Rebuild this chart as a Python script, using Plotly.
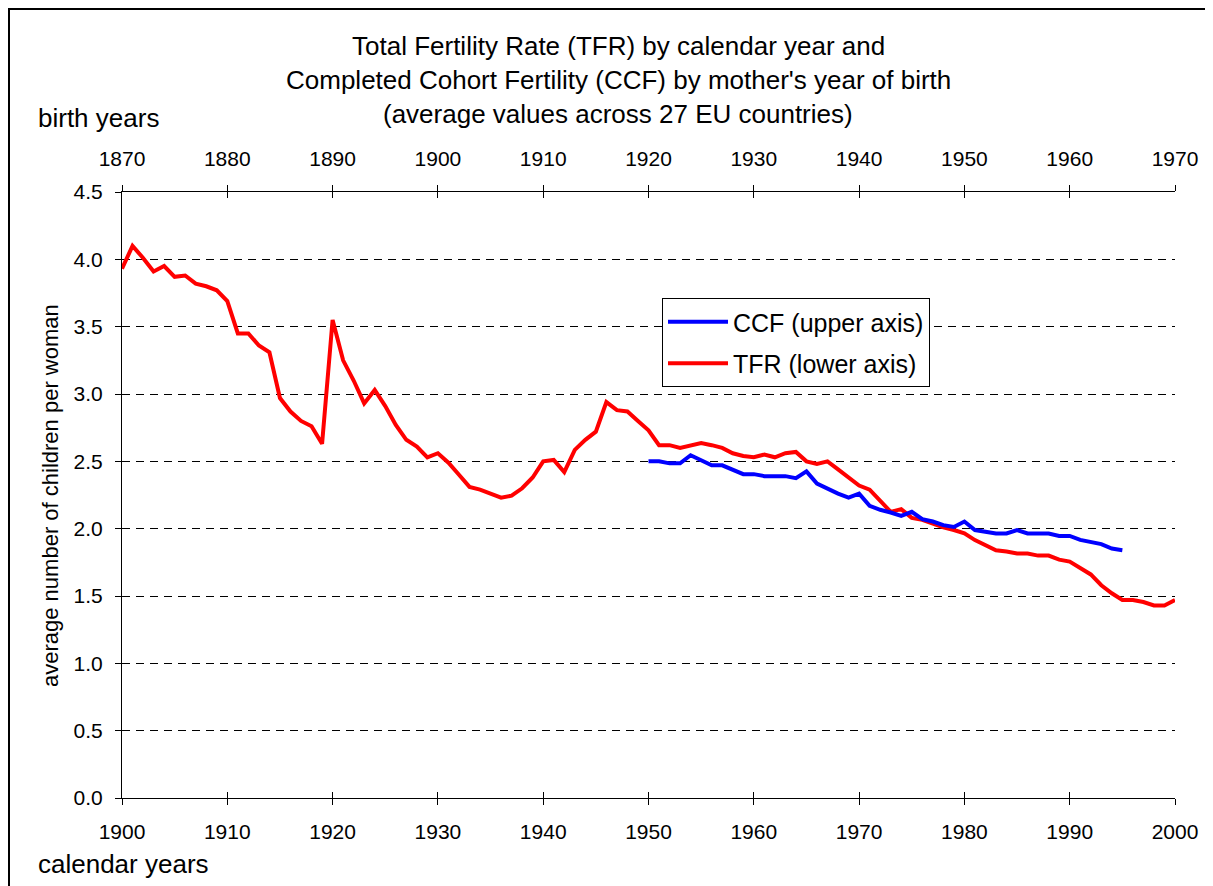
import plotly.graph_objects as go

# ---- data ----
tfr_years = list(range(1900, 2001))
tfr_values = [3.93, 4.10, 4.01, 3.91, 3.95, 3.87, 3.88, 3.82, 3.80, 3.77,
              3.69, 3.45, 3.45, 3.36, 3.31, 2.97, 2.87, 2.80, 2.76, 2.63,
              3.55, 3.25, 3.10, 2.93, 3.03, 2.91, 2.77, 2.66, 2.61, 2.53,
              2.56, 2.49, 2.40, 2.31, 2.29, 2.26, 2.23, 2.245, 2.30, 2.38,
              2.50, 2.51, 2.42, 2.585, 2.66, 2.72, 2.94, 2.88, 2.87, 2.80,
              2.73, 2.62, 2.62, 2.60, 2.62, 2.635, 2.62, 2.60, 2.56, 2.54,
              2.53, 2.55, 2.53, 2.56, 2.57, 2.50, 2.48, 2.50, 2.44, 2.38,
              2.32, 2.29, 2.21, 2.125, 2.145, 2.08, 2.065, 2.035, 2.01, 1.99,
              1.965, 1.915, 1.88, 1.84, 1.83, 1.815, 1.815, 1.80, 1.80, 1.77,
              1.755, 1.71, 1.66, 1.58, 1.52, 1.47, 1.47, 1.455, 1.43, 1.43,
              1.47]

ccf_birth_years = list(range(1920, 1966))
ccf_values = [2.50, 2.50, 2.485, 2.485, 2.545, 2.51, 2.47, 2.47, 2.435, 2.405,
              2.405, 2.39, 2.39, 2.39, 2.375, 2.425, 2.335, 2.295, 2.26, 2.23,
              2.26, 2.17, 2.14, 2.12, 2.095, 2.125, 2.07, 2.053, 2.026, 2.013,
              2.053, 1.99, 1.978, 1.964, 1.964, 1.99, 1.964, 1.964, 1.964, 1.946,
              1.946, 1.917, 1.902, 1.885, 1.852, 1.84]

calendar_range = [1900, 2000]
birth_range = [1870, 1970]
title_lines = ["Total Fertility Rate (TFR) by calendar year and",
               "Completed Cohort Fertility (CCF) by mother's year of birth",
               "(average values across 27 EU countries)"]

FONT = "Liberation Sans, Arial, sans-serif"
OFF = 8  # page body margin offset
W, H = 1213 - OFF, 886 - OFF
PL, PR, PT, PB = 122, 1175, 192, 798  # plot area in page pixels
L, T = PL - OFF, PT - OFF
R, B = W - (PR - OFF), H - (PB - OFF)
PW, PH = PR - PL, PB - PT


def px_x(p):
    return (p - PL) / PW


def px_y(p):
    return (PB - p) / PH


fig = go.Figure()
fig.add_trace(go.Scatter(x=ccf_birth_years, y=ccf_values, xaxis="x2", yaxis="y",
                         mode="lines", name="CCF (upper axis)", legendgroup="a",
                         line=dict(color="#0000FF", width=4)))
fig.add_trace(go.Scatter(x=tfr_years, y=tfr_values, xaxis="x", yaxis="y",
                         mode="lines", name="TFR (lower axis)", legendgroup="b",
                         line=dict(color="#FF0000", width=4)))
# dummy trace to activate the inside-tick overlay axis
fig.add_trace(go.Scatter(x=[], y=[], xaxis="x3", yaxis="y", showlegend=False,
                         hoverinfo="skip"))

tickfont = dict(family=FONT, size=21, color="black")

fig.update_layout(
    width=W, height=H,
    margin=dict(l=L, r=R, t=T, b=B, pad=0),
    paper_bgcolor="white", plot_bgcolor="white",
    font=dict(family=FONT, color="black"),
    showlegend=True,
    legend=dict(x=px_x(662), y=px_y(298), xanchor="left", yanchor="top",
                bgcolor="white", bordercolor="black", borderwidth=1,
                font=dict(family=FONT, size=25, color="black"),
                itemwidth=60, tracegroupgap=6, traceorder="grouped"),
    xaxis=dict(range=calendar_range, dtick=10, tick0=1900, side="bottom",
               showline=True, linecolor="black", linewidth=1, mirror="ticks",
               ticks="outside", ticklen=6, tickcolor="black", tickwidth=1,
               showgrid=False, zeroline=False, tickfont=tickfont,
               ticklabelstandoff=9),
    xaxis2=dict(range=birth_range, dtick=10, tick0=1870, side="top",
                overlaying="x", showline=False, ticks="", showgrid=False,
                zeroline=False, tickfont=tickfont, ticklabelstandoff=21),
    xaxis3=dict(range=calendar_range, dtick=10, tick0=1900, side="bottom",
                overlaying="x", showline=False, mirror="ticks",
                ticks="inside", ticklen=6, tickcolor="black", tickwidth=1,
                showticklabels=False, showgrid=False, zeroline=False),
    yaxis=dict(range=[0, 4.5], dtick=0.5, tick0=0, tickformat=".1f",
               showline=True, linecolor="black", linewidth=1,
               ticks="outside", ticklen=6, tickcolor="black", tickwidth=1,
               showgrid=True, gridcolor="black", gridwidth=1,
               griddash="8px,6px", zeroline=False, tickfont=tickfont,
               ticklabelstandoff=8),
)

annotations = []
for i, line in enumerate(title_lines):
    annotations.append(dict(text=line, xref="paper", yref="paper",
                            x=px_x(618), y=px_y(46 + 34 * i),
                            xanchor="center", yanchor="middle", showarrow=False,
                            font=dict(family=FONT, size=26, color="black")))
annotations.append(dict(text="birth years", xref="paper", yref="paper",
                        x=px_x(36), y=px_y(118), xanchor="left", yanchor="middle",
                        showarrow=False, font=dict(family=FONT, size=26, color="black")))
annotations.append(dict(text="calendar years", xref="paper", yref="paper",
                        x=px_x(36), y=px_y(864), xanchor="left", yanchor="middle",
                        showarrow=False, font=dict(family=FONT, size=26, color="black")))
annotations.append(dict(text="average number of children per woman", xref="paper",
                        yref="paper", x=px_x(50), y=px_y(496), xanchor="center",
                        yanchor="middle", textangle=-90, showarrow=False,
                        font=dict(family=FONT, size=22, color="black")))
fig.update_layout(annotations=annotations)

# outer frame: only the left and top edges are visible in the reference
fig.add_shape(type="line", xref="paper", yref="paper",
              x0=px_x(OFF + 1), x1=px_x(OFF + 1), y0=px_y(900), y1=px_y(OFF + 1),
              line=dict(color="black", width=2), layer="below")
fig.add_shape(type="line", xref="paper", yref="paper",
              x0=px_x(OFF), x1=px_x(1213), y0=px_y(OFF + 1), y1=px_y(OFF + 1),
              line=dict(color="black", width=2), layer="below")

fig.write_html("out.html")
